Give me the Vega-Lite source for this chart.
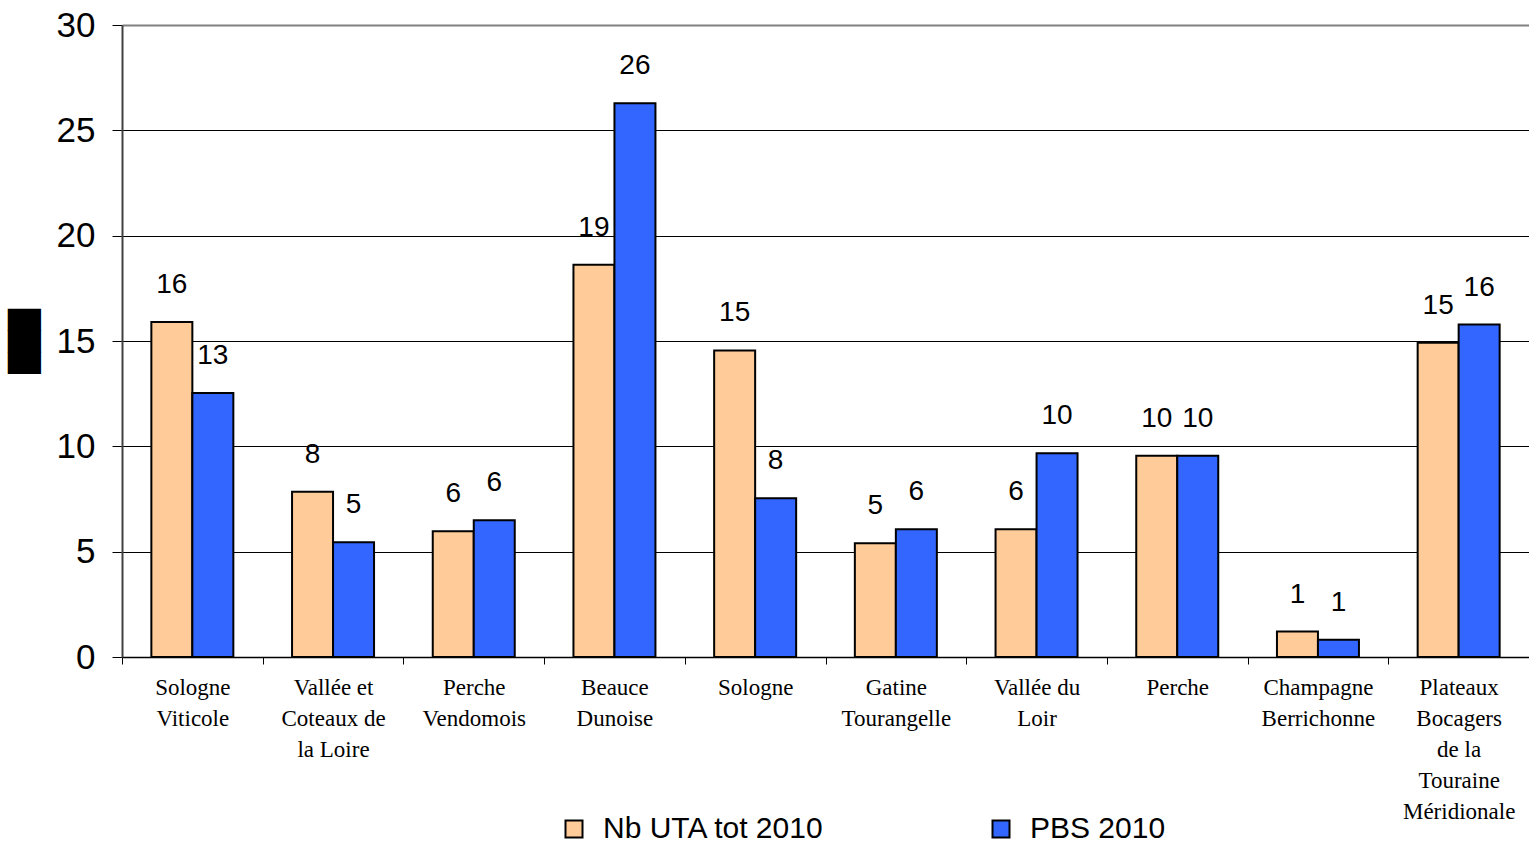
{
  "$schema": "https://vega.github.io/schema/vega-lite/v6.json",
  "width": 1407,
  "height": 632,
  "autosize": {"type": "none"},
  "padding": {"left": 122, "top": 25, "right": 0, "bottom": 187},
  "background": "white",
  "config": {"font": "Liberation Sans", "view": {"stroke": null}},
  "data": {
    "values": [
      {"region": "Sologne Viticole", "series": "Nb UTA tot 2010", "value": 15.9},
      {"region": "Sologne Viticole", "series": "PBS 2010", "value": 12.53},
      {"region": "Vallée et Coteaux de la Loire", "series": "Nb UTA tot 2010", "value": 7.85},
      {"region": "Vallée et Coteaux de la Loire", "series": "PBS 2010", "value": 5.45},
      {"region": "Perche Vendomois", "series": "Nb UTA tot 2010", "value": 5.97},
      {"region": "Perche Vendomois", "series": "PBS 2010", "value": 6.49},
      {"region": "Beauce Dunoise", "series": "Nb UTA tot 2010", "value": 18.62},
      {"region": "Beauce Dunoise", "series": "PBS 2010", "value": 26.29},
      {"region": "Sologne", "series": "Nb UTA tot 2010", "value": 14.55},
      {"region": "Sologne", "series": "PBS 2010", "value": 7.54},
      {"region": "Gatine Tourangelle", "series": "Nb UTA tot 2010", "value": 5.4},
      {"region": "Gatine Tourangelle", "series": "PBS 2010", "value": 6.07},
      {"region": "Vallée du Loir", "series": "Nb UTA tot 2010", "value": 6.07},
      {"region": "Vallée du Loir", "series": "PBS 2010", "value": 9.67},
      {"region": "Perche", "series": "Nb UTA tot 2010", "value": 9.55},
      {"region": "Perche", "series": "PBS 2010", "value": 9.55},
      {"region": "Champagne Berrichonne", "series": "Nb UTA tot 2010", "value": 1.21},
      {"region": "Champagne Berrichonne", "series": "PBS 2010", "value": 0.82},
      {"region": "Plateaux Bocagers de la Touraine Méridionale", "series": "Nb UTA tot 2010", "value": 14.92},
      {"region": "Plateaux Bocagers de la Touraine Méridionale", "series": "PBS 2010", "value": 15.78}
    ]
  },
  "encoding": {
    "x": {
      "field": "region",
      "type": "nominal",
      "sort": ["Sologne Viticole", "Vallée et Coteaux de la Loire", "Perche Vendomois", "Beauce Dunoise", "Sologne", "Gatine Tourangelle", "Vallée du Loir", "Perche", "Champagne Berrichonne", "Plateaux Bocagers de la Touraine Méridionale"],
      "scale": {"paddingInner": 0, "paddingOuter": 0},
      "axis": {
        "title": null,
        "labelAngle": 0,
        "labelFont": "Liberation Serif",
        "labelFontSize": 23,
        "labelLineHeight": 31,
        "labelBaseline": "top",
        "labelPadding": 12,
        "labelColor": "black",
        "labelLimit": 0,
        "labelOverlap": false,
        "labelExpr": "{'Sologne Viticole':['Sologne','Viticole'],'Vallée et Coteaux de la Loire':['Vallée et','Coteaux de','la Loire'],'Perche Vendomois':['Perche','Vendomois'],'Beauce Dunoise':['Beauce','Dunoise'],'Sologne':['Sologne'],'Gatine Tourangelle':['Gatine','Tourangelle'],'Vallée du Loir':['Vallée du','Loir'],'Perche':['Perche'],'Champagne Berrichonne':['Champagne','Berrichonne'],'Plateaux Bocagers de la Touraine Méridionale':['Plateaux','Bocagers','de la','Touraine','Méridionale']}[datum.label]",
        "tickBand": "extent",
        "tickSize": 7,
        "tickColor": "black",
        "domainColor": "black",
        "domainWidth": 1.5,
        "grid": false
      }
    },
    "xOffset": {
      "field": "series",
      "type": "nominal",
      "sort": ["Nb UTA tot 2010", "PBS 2010"],
      "scale": {"paddingInner": 0, "paddingOuter": 0.716}
    },
    "y": {
      "field": "value",
      "type": "quantitative",
      "scale": {"domain": [0, 30], "nice": false},
      "axis": {
        "values": [0, 5, 10, 15, 20, 25, 30],
        "title": "███",
        "titleFont": "DejaVu Sans",
        "titleFontSize": 28,
        "titleFontWeight": "normal",
        "titleColor": "black",
        "titleX": -97,
        "titleY": 316,
        "titleAngle": 270,
        "titleAlign": "center",
        "titleBaseline": "middle",
        "labelFontSize": 35,
        "labelColor": "black",
        "labelPadding": 17,
        "tickSize": 10,
        "tickColor": "black",
        "domainColor": "#404040",
        "domainWidth": 2,
        "grid": true,
        "gridColor": {"condition": {"test": "datum.value === 30", "value": "#808080"}, "value": "black"},
        "gridWidth": {"condition": {"test": "datum.value === 30", "value": 2}, "value": 1}
      }
    }
  },
  "layer": [
    {
      "mark": {"type": "bar", "stroke": "black", "strokeWidth": 2},
      "encoding": {
        "color": {
          "field": "series",
          "type": "nominal",
          "scale": {"domain": ["Nb UTA tot 2010", "PBS 2010"], "range": ["#FFCC99", "#3366FF"]},
          "legend": {
            "title": null,
            "orient": "none",
            "legendX": 437,
            "legendY": 789,
            "direction": "horizontal",
            "columns": 2,
            "columnPadding": 161,
            "padding": 0,
            "symbolType": "square",
            "symbolSize": 289,
            "symbolStrokeColor": "black",
            "symbolStrokeWidth": 2,
            "symbolOpacity": 1,
            "labelFontSize": 30,
            "labelColor": "black",
            "labelOffset": 14,
            "labelLimit": 0
          }
        }
      }
    },
    {
      "mark": {"type": "text", "baseline": "middle", "align": "center", "dy": -37, "fontSize": 28, "color": "black"},
      "encoding": {
        "text": {"field": "value", "type": "quantitative", "format": ".0f"}
      }
    }
  ]
}
